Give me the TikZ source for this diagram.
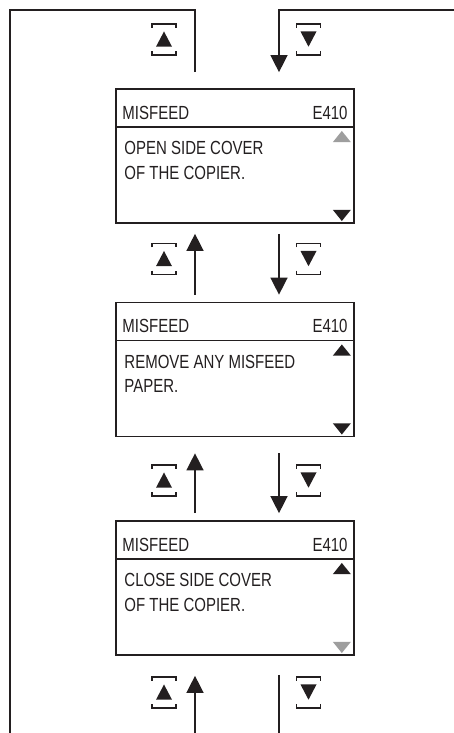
\documentclass[tikz,border=0pt]{standalone}
\usepackage{fontspec}
\setmainfont{Liberation Sans}[FakeStretch=0.79]
\usepackage{xcolor}
\usetikzlibrary{arrows.meta,positioning,calc}
\definecolor{Ink}{HTML}{231F20}
\definecolor{Muted}{HTML}{9E9E9E}

\begin{document}
\begin{tikzpicture}[
    font=\fontsize{13.5}{17.4}\selectfont,
    text=Ink,
    screen/.style={
        draw=Ink,
        line width=1.2pt,
        fill=white,
        inner sep=0pt,
        minimum width=5.95cm,
        minimum height=3.35cm
    },
    divider/.style={
        draw=Ink,
        line width=1.2pt
    },
    frame/.style={
        draw=Ink,
        line width=1pt
    },
    arrow/.style={
        -{Triangle[length=4.25mm,width=4.25mm]},
        line width=1pt,
        draw=Ink
    },
    keyline/.style={
        draw=Ink,
        line width=0.9pt
    },
    msgtext/.style={
        inner sep=0pt,
        align=left
    },
    keyup/.pic={
        \draw[keyline] (-0.3,0.29) -- (-0.3,0.39) -- (0.3,0.39) -- (0.3,0.29);
        \draw[keyline] (-0.3,-0.29) -- (-0.3,-0.39) -- (0.3,-0.39) -- (0.3,-0.29);
        \fill[Ink] (-0.2,-0.18) -- (0.2,-0.18) -- (0,0.2) -- cycle;
    },
    keydown/.pic={
        \draw[keyline] (-0.3,0.29) -- (-0.3,0.39) -- (0.3,0.39) -- (0.3,0.29);
        \draw[keyline] (-0.3,-0.29) -- (-0.3,-0.39) -- (0.3,-0.39) -- (0.3,-0.29);
        \fill[Ink] (-0.2,0.2) -- (0.2,0.2) -- (0,-0.18) -- cycle;
    }
]

\useasboundingbox (0,0) rectangle (11.35,18.325);

% Lanes and frame corners
\coordinate (upx) at (4.875,0);
\coordinate (downx) at (6.975,0);
\coordinate (tl) at (0.25,18.075);
\coordinate (bl) at (0.25,0);
\coordinate (tr) at (11.35,18.075);

% ===========================
% Screens
% ===========================

\node[screen] (scr1) at (5.875,14.425) {};
\node[screen] (scr2) at (5.875,9.0875) {};
\node[screen] (scr3) at (5.875,3.625) {};

\foreach \b in {scr1,scr2,scr3} {
    \draw[divider] ([yshift=-9.75mm]\b.north west) -- ([yshift=-9.75mm]\b.north east);
    \node[anchor=base west, inner sep=0pt] (\b-hd) at ([shift={(0.175,-0.775)}]\b.north west) {MISFEED};
    \node[anchor=base east, inner sep=0pt] (\b-code) at ([shift={(-0.175,-0.775)}]\b.north east) {E410};
}

\node[msgtext, anchor=north west] (msg1) at ([shift={(0.225,-1.33)}]scr1.north west)
{OPEN SIDE COVER\\OF THE COPIER.};

\node[msgtext, anchor=north west] (msg2) at ([shift={(0.225,-1.33)}]scr2.north west)
{REMOVE ANY MISFEED\\PAPER.};

\node[msgtext, anchor=north west] (msg3) at ([shift={(0.225,-1.33)}]scr3.north west)
{CLOSE SIDE COVER\\OF THE COPIER.};

% Scroll marks
\foreach \b/\upc/\dnc in {scr1/Muted/Ink, scr2/Ink/Ink, scr3/Ink/Muted} {
    \fill[\upc] ([shift={(-0.55,-1.35)}]\b.north east) -- ++(0.45,0) -- ++(-0.225,0.28) -- cycle;
    \fill[\dnc] ([shift={(-0.55,0.35)}]\b.south east) -- ++(0.45,0) -- ++(-0.225,-0.28) -- cycle;
}

% ===========================
% Connectors
% ===========================

\draw[frame, shorten <=4mm] (scr1.north -| upx) |- (tl) -- (bl);
\draw[arrow, shorten >=4mm] (tr) -| (scr1.north -| downx);

\draw[arrow, shorten <=1.75mm, shorten >=2.5mm] (scr2.north -| upx) -- (scr1.south -| upx);
\draw[arrow, shorten <=2.5mm, shorten >=1.75mm] (scr1.south -| downx) -- (scr2.north -| downx);

\draw[arrow, shorten <=1.75mm, shorten >=4mm] (scr3.north -| upx) -- (scr2.south -| upx);
\draw[arrow, shorten <=4mm, shorten >=1.75mm] (scr2.south -| downx) -- (scr3.north -| downx);

\draw[arrow, shorten >=5mm] (upx |- bl) -- (scr3.south -| upx);
\draw[frame, shorten <=4.75mm] (scr3.south -| downx) -- (downx |- bl);

% Keys
\foreach \y in {17.3375,11.85,6.3125,1.0125} {
    \pic at (4.1,\y) {keyup};
    \pic at (7.7125,\y) {keydown};
}

\end{tikzpicture}
\end{document}
